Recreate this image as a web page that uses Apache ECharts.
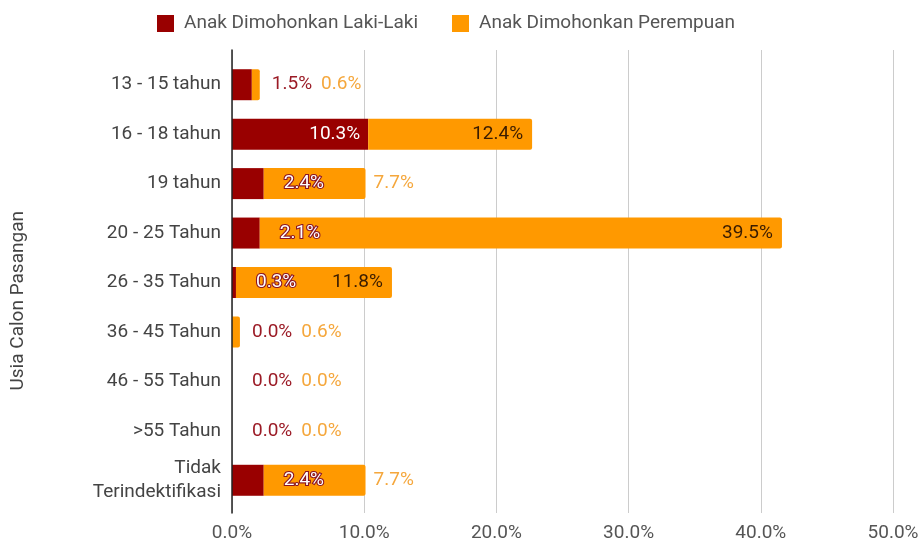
<!DOCTYPE html>
<html>
<head>
<meta charset="utf-8">
<script src="https://cdn.jsdelivr.net/npm/echarts@6/dist/echarts.min.js"></script>
<style>
  html, body { margin: 0; padding: 0; background: #fff; }
  #chart { width: 922px; height: 543px; }
</style>
</head>
<body>
<div id="chart"></div>
<script>
// Age groups of prospective spouses, top to bottom
const categories = [
  '13 - 15 tahun', '16 - 18 tahun', '19 tahun', '20 - 25 Tahun', '26 - 35 Tahun',
  '36 - 45 Tahun', '46 - 55 Tahun', '>55 Tahun', 'Tidak\nTerindektifikasi'
];
const seriesNames = ['Anak Dimohonkan Laki-Laki', 'Anak Dimohonkan Perempuan'];
// Percentages per group
const lakiLaki  = [1.5, 10.3, 2.4, 2.1, 0.3, 0.0, 0.0, 0.0, 2.4];
const perempuan = [0.6, 12.4, 7.7, 39.5, 11.8, 0.6, 0.0, 0.0, 7.7];
// Value axis
const axisMin = 0, axisMax = 50, axisStep = 10;

const RED = '#990000', ORANGE = '#ff9900';
const FONT = 'Roboto';
const FS = 19;

const gridLeft = 232, gridRight = 29;
const plotWidth = 922 - gridLeft - gridRight;
const pxPer = plotWidth / (axisMax - axisMin);

const ctx = document.createElement('canvas').getContext('2d');
ctx.font = FS + 'px ' + FONT;
const textW = t => ctx.measureText(t).width;
const fmt = v => v.toFixed(1) + '%';

// Work out where each value label sits so the two labels of a row never collide
const lakiLabels = [], perLabels = [];
lakiLaki.forEach((v, i) => {
  const p = perempuan[i];
  const lakiEnd = v * pxPer;
  const totalEnd = (v + p) * pxPer;
  const wL = textW(fmt(v));
  const wP = textW(fmt(p));
  let lakiRight;
  if (lakiEnd >= wL + 16) {
    lakiLabels.push({ show: true, position: 'insideRight', distance: 8, color: '#ffffff' });
    lakiRight = lakiEnd;
  } else {
    const dist = 20;
    const left = lakiEnd + dist;
    const overBar = left < totalEnd - 4;
    lakiLabels.push(overBar
      ? { show: true, position: 'right', distance: dist, color: '#ffffff',
          textBorderColor: '#8a1424', textBorderWidth: 2.2 }
      : { show: true, position: 'right', distance: dist, color: '#9b1b26' });
    lakiRight = left + wL;
  }
  if (totalEnd - 9 - wP >= lakiRight + 8) {
    perLabels.push({ show: true, position: 'insideRight', distance: 9, color: '#3a1c00' });
  } else {
    const dist = Math.max(8, lakiRight + 9 - totalEnd);
    perLabels.push({ show: true, position: 'right', distance: dist, color: '#f5a73c' });
  }
});

const chart = echarts.init(document.getElementById('chart'));
chart.setOption({
  animation: false,
  textStyle: { fontFamily: FONT },
  legend: {
    top: 9, left: 152,
    itemWidth: 17, itemHeight: 17, itemGap: 34,
    icon: 'rect',
    textStyle: { fontSize: FS, color: '#555', fontFamily: FONT, padding: [0, 0, 0, 5] },
    data: seriesNames
  },
  graphic: [{
    type: 'text',
    left: 9, top: 211,
    rotation: Math.PI / 2,
    style: { text: 'Usia Calon Pasangan', font: FS + 'px ' + FONT, fill: '#444' }
  }],
  grid: [
    { left: gridLeft, right: gridRight, top: 60, bottom: 38 },
    { left: gridLeft, right: gridRight, top: 50, bottom: 30 }
  ],
  xAxis: [
    { gridIndex: 0, type: 'value', min: axisMin, max: axisMax, interval: axisStep,
      show: false },
    { gridIndex: 1, type: 'value', min: axisMin, max: axisMax, interval: axisStep,
      axisLine: { show: false }, axisTick: { show: false },
      splitLine: { lineStyle: { color: '#cccccc', width: 1 } },
      axisLabel: { margin: 11, fontSize: FS, color: '#555',
                   formatter: v => v.toFixed(1) + '%' } }
  ],
  yAxis: [
    { gridIndex: 0, type: 'category', inverse: true, data: categories,
      axisLine: { show: false }, axisTick: { show: false },
      axisLabel: { margin: 11, fontSize: FS, color: '#444', lineHeight: 24, align: 'right' } },
    { gridIndex: 1, type: 'value', min: 0, max: 1, z: 5,
      axisLine: { show: true, lineStyle: { color: '#222', width: 1.5 } },
      axisTick: { show: false }, axisLabel: { show: false }, splitLine: { show: false } }
  ],
  series: [
    {
      name: seriesNames[0], type: 'bar', stack: 'total',
      xAxisIndex: 0, yAxisIndex: 0, barWidth: 31,
      itemStyle: { color: RED },
      label: { fontSize: FS, fontFamily: FONT, formatter: p => fmt(p.value) },
      data: lakiLaki.map((v, i) => ({ value: v, label: lakiLabels[i] }))
    },
    {
      name: seriesNames[1], type: 'bar', stack: 'total',
      xAxisIndex: 0, yAxisIndex: 0, barWidth: 31,
      itemStyle: { color: ORANGE, borderRadius: [0, 2, 2, 0] },
      label: { fontSize: FS, fontFamily: FONT, formatter: p => fmt(p.value) },
      data: perempuan.map((v, i) => ({ value: v, label: perLabels[i] }))
    }
  ]
});
</script>
</body>
</html>
